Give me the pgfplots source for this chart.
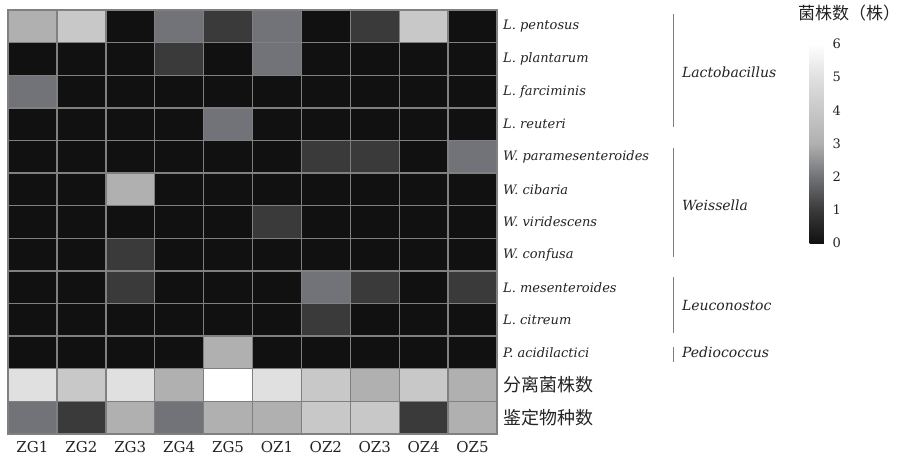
\documentclass[border=0pt]{standalone}
\usepackage{pgfplots}
\pgfplotsset{compat=1.18}
\usepackage{pgfplotstable}
\usepackage{fontspec}
\setmainfont{DejaVu Serif}
\newfontfamily\cjk{Noto Sans CJK SC}
\definecolor{gridc}{RGB}{128,128,128}
\definecolor{txt}{RGB}{35,35,35}
\pgfplotstableread{
x y c
0 0 3
1 0 4
2 0 0
3 0 2
4 0 1
5 0 2
6 0 0
7 0 1
8 0 4
9 0 0
0 1 0
1 1 0
2 1 0
3 1 1
4 1 0
5 1 2
6 1 0
7 1 0
8 1 0
9 1 0
0 2 2
1 2 0
2 2 0
3 2 0
4 2 0
5 2 0
6 2 0
7 2 0
8 2 0
9 2 0
0 3 0
1 3 0
2 3 0
3 3 0
4 3 2
5 3 0
6 3 0
7 3 0
8 3 0
9 3 0
0 4 0
1 4 0
2 4 0
3 4 0
4 4 0
5 4 0
6 4 1
7 4 1
8 4 0
9 4 2
0 5 0
1 5 0
2 5 3
3 5 0
4 5 0
5 5 0
6 5 0
7 5 0
8 5 0
9 5 0
0 6 0
1 6 0
2 6 0
3 6 0
4 6 0
5 6 1
6 6 0
7 6 0
8 6 0
9 6 0
0 7 0
1 7 0
2 7 1
3 7 0
4 7 0
5 7 0
6 7 0
7 7 0
8 7 0
9 7 0
0 8 0
1 8 0
2 8 1
3 8 0
4 8 0
5 8 0
6 8 2
7 8 1
8 8 0
9 8 1
0 9 0
1 9 0
2 9 0
3 9 0
4 9 0
5 9 0
6 9 1
7 9 0
8 9 0
9 9 0
0 10 0
1 10 0
2 10 0
3 10 0
4 10 3
5 10 0
6 10 0
7 10 0
8 10 0
9 10 0
0 11 5
1 11 4
2 11 5
3 11 3
4 11 6
5 11 5
6 11 4
7 11 3
8 11 4
9 11 3
0 12 2
1 12 1
2 12 3
3 12 2
4 12 3
5 12 3
6 12 4
7 12 4
8 12 1
9 12 3
}\hmdata
\begin{document}
\begin{tikzpicture}
\useasboundingbox (0,0) rectangle (902pt,456pt);
\begin{axis}[
  at={(8pt,22pt)}, anchor=south west,
  scale only axis, width=489pt, height=424pt,
  xmin=-0.5, xmax=9.5, ymin=-0.5, ymax=12.5,
  y dir=reverse, enlargelimits=false, clip=false,
  colormap={hm}{rgb255=(17,17,17) rgb255=(58,58,58) rgb255=(113,115,121) rgb255=(176,176,176) rgb255=(200,200,200) rgb255=(224,224,224) rgb255=(255,255,255)},
  point meta min=0, point meta max=6,
  xtick={0,...,9},
  xticklabels={ZG1,ZG2,ZG3,ZG4,ZG5,OZ1,OZ2,OZ3,OZ4,OZ5},
  xticklabel style={font=\fontsize{15}{15}\selectfont, text=txt, inner sep=0pt, yshift=-7pt},
  ytick={0,...,12},
  yticklabels={{\itshape L. pentosus},{\itshape L. plantarum},{\itshape L. farciminis},{\itshape L. reuteri},{\itshape W. paramesenteroides},{\itshape W. cibaria},{\itshape W. viridescens},{\itshape W. confusa},{\itshape L. mesenteroides},{\itshape L. citreum},{\itshape P. acidilactici},{\cjk\fontsize{18}{18}\selectfont 分离菌株数},{\cjk\fontsize{18}{18}\selectfont 鉴定物种数}},
  yticklabel pos=right,
  yticklabel style={font=\fontsize{13}{13}\selectfont, text=txt, anchor=west, inner sep=0pt, xshift=6pt},
  major tick length=0pt, minor tick length=0pt,
  minor xtick={-0.5,0.5,...,9.5}, minor ytick={-0.5,0.5,...,12.5},
  xminorgrids, yminorgrids,
  minor grid style={draw=gridc, line width=1.4pt},
  axis on top, axis line style={draw=gridc, line width=1.4pt},
  colorbar,
  colorbar style={
    at={(parent axis.north east)}, anchor=north west,
    xshift=304pt, yshift=-34pt,
    scale only axis, width=17pt, height=199pt,
    ytick={0,...,6}, major tick length=0pt,
    axis line style={draw=none},
    yticklabel style={font=\fontsize{13}{13}\selectfont, text=txt, inner sep=0pt, xshift=6pt},
    /pgf/number format/assume math mode=true,
  },
]
\addplot[matrix plot*, mesh/cols=10, mesh/rows=13, point meta=explicit] table[x=x, y=y, meta=c] {\hmdata};
\draw[gridc, line width=1pt] (axis cs:13.1,-0.38) -- (axis cs:13.1,3.09);
\draw[gridc, line width=1pt] (axis cs:13.1,3.73) -- (axis cs:13.1,7.08);
\draw[gridc, line width=1pt] (axis cs:13.1,7.69) -- (axis cs:13.1,9.41);
\draw[gridc, line width=1pt] (axis cs:13.1,9.84) -- (axis cs:13.1,10.30);
\node[anchor=west, inner sep=0pt, text=txt, font=\fontsize{14}{14}\selectfont\itshape] at (axis cs:13.28,1.4) {Lactobacillus};
\node[anchor=west, inner sep=0pt, text=txt, font=\fontsize{14}{14}\selectfont\itshape] at (axis cs:13.28,5.5) {Weissella};
\node[anchor=west, inner sep=0pt, text=txt, font=\fontsize{14}{14}\selectfont\itshape] at (axis cs:13.28,8.55) {Leuconostoc};
\node[anchor=west, inner sep=0pt, text=txt, font=\fontsize{14}{14}\selectfont\itshape] at (axis cs:13.28,10.0) {Pediococcus};
\end{axis}
\node[text=txt, inner sep=0pt, font=\cjk\fontsize{17}{17}\selectfont] at (849pt,443pt) {菌株数（株）};
\end{tikzpicture}
\end{document}
